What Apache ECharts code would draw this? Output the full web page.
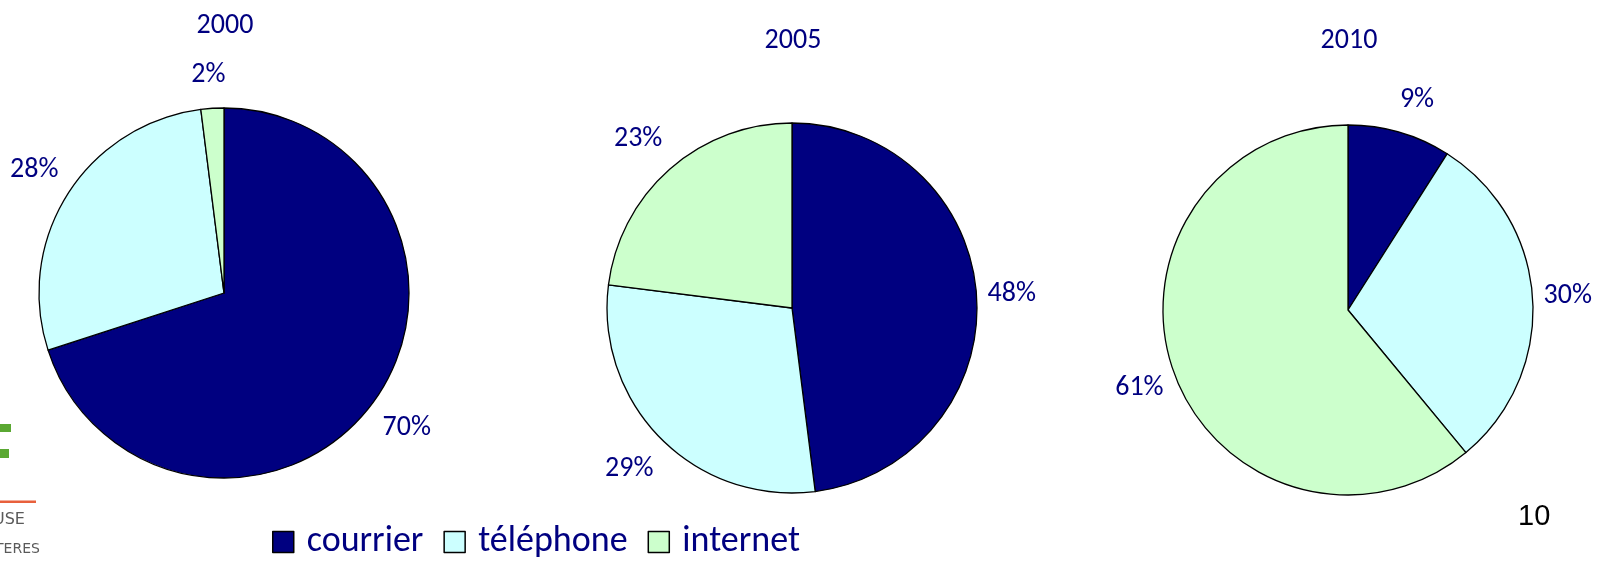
<!DOCTYPE html>
<html><head><meta charset="utf-8">
<script src="https://cdn.jsdelivr.net/npm/echarts/dist/echarts.min.js"></script>
<style>html,body{margin:0;padding:0;background:#fff}#c{width:1600px;height:562px}</style>
</head><body><div id="c"></div>
<script>
const years = ['2000', '2005', '2010'];
const categories = ['courrier', 'téléphone', 'internet'];
const share2000 = [70, 28, 2];
const share2005 = [48, 29, 23];
const share2010 = [9, 30, 61];
const pageNumber = '10';

const colors = ['#000080', '#CCFFFF', '#CCFFCC'];
const shares = [share2000, share2005, share2010];
const centers = [[224, 293], [792, 308], [1348, 310]];
const R = 185;
const LABEL_GAP = 11;
const LABEL_HALF_H = 22;
const FONT = 'Carlito, Calibri, Lato, sans-serif';
const NAVY = '#000080';

function midAngle(vals, i) {
  const tot = vals.reduce((a, b) => a + b, 0);
  let acc = 0;
  for (let k = 0; k < i; k++) acc += vals[k];
  return (acc + vals[i] / 2) / tot * 2 * Math.PI;
}
function clamp1(v) { return Math.max(-1, Math.min(1, v)); }

const chart = echarts.init(document.getElementById('c'), null, { renderer: 'canvas' });

const series = shares.map((vals, si) => ({
  type: 'pie',
  name: years[si],
  center: centers[si],
  radius: R,
  startAngle: 90,
  clockwise: true,
  animation: false,
  silent: true,
  avoidLabelOverlap: false,
  itemStyle: { borderColor: '#000', borderWidth: 1.3 },
  emphasis: { disabled: true, scale: false },
  label: {
    show: true, position: 'outside', formatter: '{c}%',
    color: NAVY, fontSize: 28, fontFamily: FONT
  },
  labelLine: { show: false, length: 10, length2: 0 },
  labelLayout: function (p) {
    const v = shares[p.seriesIndex];
    const a = midAngle(v, p.dataIndex);
    const c = centers[p.seriesIndex];
    const ux = Math.sin(a), uy = -Math.cos(a);
    const hw = p.labelRect ? p.labelRect.width / 2 : 22;
    const d = R + LABEL_GAP;
    return {
      x: c[0] + ux * d + hw * clamp1(3 * ux),
      y: c[1] + uy * d + LABEL_HALF_H * clamp1(1.5 * uy),
      align: 'center', verticalAlign: 'middle'
    };
  },
  data: categories.map((n, i) => ({ name: n, value: vals[i], itemStyle: { color: colors[i] } }))
}));

const titleY = [7, 22, 22];
const option = {
  backgroundColor: '#fff',
  animation: false,
  color: colors,
  title: years.map((y, i) => ({
    text: y, left: centers[i][0] - 4, top: titleY[i], textAlign: 'center',
    textStyle: { color: NAVY, fontSize: 28, fontWeight: 'normal', fontFamily: FONT }
  })),
  legend: {
    left: 267, top: 519, orient: 'horizontal',
    icon: 'rect', itemWidth: 21, itemHeight: 21, itemGap: 20,
    selectedMode: false,
    itemStyle: { borderColor: '#000', borderWidth: 1.5 },
    textStyle: { color: NAVY, fontSize: 36, fontFamily: FONT, padding: [0, 0, 0, 8] },
    data: categories
  },
  graphic: [
    { type: 'text', left: 1518, top: 502, style: { text: pageNumber, fill: '#000', font: '29px "Liberation Sans", Arial, sans-serif' } },
    { type: 'rect', shape: { x: 0, y: 424, width: 11, height: 8 }, style: { fill: '#5aa832' } },
    { type: 'rect', shape: { x: 0, y: 449, width: 9, height: 9 }, style: { fill: '#5aa832' } },
    { type: 'rect', shape: { x: 0, y: 500.5, width: 36, height: 2.5 }, style: { fill: '#e8603c' } },
    { type: 'text', x: -7, y: 520, style: { text: 'USE', fill: '#5a5a5a', font: '16px "DejaVu Sans", sans-serif', verticalAlign: 'middle' } },
    { type: 'text', x: -5, y: 549.5, style: { text: 'TERES', fill: '#5a5a5a', font: '14px "DejaVu Sans", sans-serif', verticalAlign: 'middle' } }
  ],
  series: series
};
chart.setOption(option);
</script>
</body></html>
